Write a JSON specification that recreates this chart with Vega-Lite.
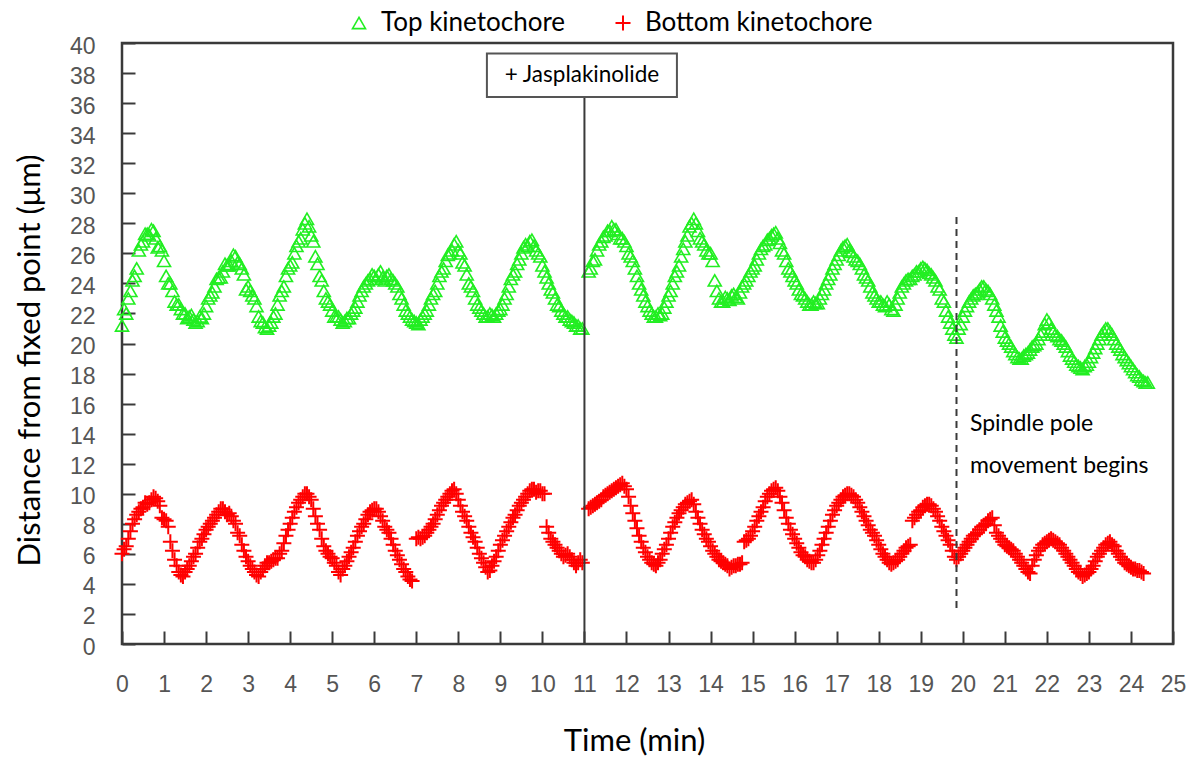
{
"$schema": "https://vega.github.io/schema/vega-lite/v6.json",
"width": 1051, "height": 601,
"autosize": {"type": "none"},
"padding": {"left": 122, "top": 43, "right": 19, "bottom": 113},
"background": "white",
"config": {"view": {"stroke": "#3a3a3a", "strokeWidth": 2.5}, "font": "Lato"},
"datasets": {
"kin": [
{"t":0.0,"a":21.2,"b":6.0},{"t":0.1,"a":22.0,"b":6.5},{"t":0.2,"a":23.5,"b":7.5},{"t":0.3,"a":24.5,"b":8.3},{"t":0.4,"a":26.2,"b":8.8},{"t":0.5,"a":26.8,"b":9.1},{"t":0.6,"a":27.3,"b":9.3},{"t":0.7,"a":27.6,"b":9.6},{"t":0.8,"a":27.0,"b":9.7},{"t":0.9,"a":26.5,"b":9.2},
{"t":1.0,"a":25.5,"b":8.3},{"t":1.1,"a":24.0,"b":7.8},{"t":1.2,"a":23.5,"b":6.2},{"t":1.3,"a":22.6,"b":5.2},{"t":1.4,"a":22.3,"b":4.6},{"t":1.5,"a":22.0,"b":4.8},{"t":1.6,"a":21.8,"b":5.2},{"t":1.7,"a":21.6,"b":5.8},{"t":1.8,"a":21.5,"b":6.4},{"t":1.9,"a":21.7,"b":7.0},
{"t":2.0,"a":22.5,"b":7.6},{"t":2.1,"a":23.2,"b":8.0},{"t":2.2,"a":23.8,"b":8.4},{"t":2.3,"a":24.4,"b":8.8},{"t":2.4,"a":24.8,"b":9.0},{"t":2.5,"a":25.2,"b":8.6},{"t":2.6,"a":25.5,"b":8.5},{"t":2.7,"a":25.8,"b":8.0},{"t":2.8,"a":25.3,"b":7.2},{"t":2.9,"a":24.6,"b":6.2},
{"t":3.0,"a":23.8,"b":5.5},{"t":3.1,"a":23.2,"b":5.0},{"t":3.2,"a":22.5,"b":4.6},{"t":3.3,"a":21.5,"b":4.8},{"t":3.4,"a":21.1,"b":5.2},{"t":3.5,"a":21.2,"b":5.4},{"t":3.6,"a":21.8,"b":5.6},{"t":3.7,"a":22.6,"b":5.7},{"t":3.8,"a":23.5,"b":6.2},{"t":3.9,"a":24.5,"b":7.2},
{"t":4.0,"a":25.2,"b":8.0},{"t":4.1,"a":26.0,"b":8.8},{"t":4.2,"a":26.8,"b":9.4},{"t":4.3,"a":27.6,"b":9.8},{"t":4.4,"a":28.3,"b":10.0},{"t":4.5,"a":27.2,"b":9.6},{"t":4.6,"a":25.8,"b":8.5},{"t":4.7,"a":24.5,"b":7.6},{"t":4.8,"a":23.5,"b":6.5},{"t":4.9,"a":22.8,"b":6.0},
{"t":5.0,"a":22.2,"b":5.7},{"t":5.1,"a":21.8,"b":5.2},{"t":5.2,"a":21.6,"b":4.6},{"t":5.3,"a":21.5,"b":5.2},{"t":5.4,"a":21.7,"b":5.8},{"t":5.5,"a":22.2,"b":6.4},{"t":5.6,"a":22.8,"b":7.2},{"t":5.7,"a":23.5,"b":7.8},{"t":5.8,"a":24.0,"b":8.3},{"t":5.9,"a":24.3,"b":8.8},
{"t":6.0,"a":24.5,"b":9.0},{"t":6.1,"a":24.6,"b":8.8},{"t":6.2,"a":24.4,"b":8.2},{"t":6.3,"a":24.5,"b":7.6},{"t":6.4,"a":24.3,"b":7.0},{"t":6.5,"a":24.0,"b":6.2},{"t":6.6,"a":23.3,"b":5.6},{"t":6.7,"a":22.6,"b":5.0},{"t":6.8,"a":22.0,"b":4.5},{"t":6.9,"a":21.6,"b":4.2},
{"t":7.0,"a":21.4,"b":7.0},{"t":7.1,"a":21.6,"b":7.0},{"t":7.2,"a":22.0,"b":7.2},{"t":7.3,"a":22.6,"b":7.6},{"t":7.4,"a":23.3,"b":8.0},{"t":7.5,"a":24.0,"b":8.6},{"t":7.6,"a":24.8,"b":9.2},{"t":7.7,"a":25.5,"b":9.6},{"t":7.8,"a":26.0,"b":10.0},{"t":7.9,"a":26.6,"b":10.3},
{"t":8.0,"a":26.2,"b":9.6},{"t":8.1,"a":25.4,"b":8.8},{"t":8.2,"a":24.6,"b":8.2},{"t":8.3,"a":23.8,"b":7.4},{"t":8.4,"a":23.0,"b":6.8},{"t":8.5,"a":22.4,"b":6.0},{"t":8.6,"a":22.0,"b":5.4},{"t":8.7,"a":21.8,"b":4.8},{"t":8.8,"a":21.9,"b":5.2},{"t":8.9,"a":22.0,"b":5.8},
{"t":9.0,"a":22.3,"b":6.6},{"t":9.1,"a":23.0,"b":7.2},{"t":9.2,"a":23.8,"b":7.8},{"t":9.3,"a":24.6,"b":8.4},{"t":9.4,"a":25.3,"b":8.9},{"t":9.5,"a":26.0,"b":9.4},{"t":9.6,"a":26.6,"b":9.8},{"t":9.7,"a":26.8,"b":10.2},{"t":9.8,"a":26.5,"b":10.3},{"t":9.9,"a":26.0,"b":10.2},
{"t":10.0,"a":25.2,"b":10.0},{"t":10.1,"a":24.4,"b":7.8},{"t":10.2,"a":23.6,"b":7.0},{"t":10.3,"a":23.0,"b":6.6},{"t":10.4,"a":22.5,"b":6.2},{"t":10.5,"a":22.0,"b":5.8},{"t":10.6,"a":21.8,"b":6.0},{"t":10.7,"a":21.5,"b":5.6},{"t":10.8,"a":21.2,"b":5.2},{"t":10.9,"a":21.0,"b":5.6},
{"t":11.1,"a":24.8,"b":9.0},{"t":11.2,"a":25.5,"b":9.2},{"t":11.3,"a":26.2,"b":9.4},{"t":11.4,"a":26.8,"b":9.6},{"t":11.5,"a":27.2,"b":9.9},{"t":11.6,"a":27.5,"b":10.1},{"t":11.7,"a":27.6,"b":10.3},{"t":11.8,"a":27.3,"b":10.5},{"t":11.9,"a":27.0,"b":10.7},
{"t":12.0,"a":26.5,"b":10.3},{"t":12.1,"a":25.8,"b":9.2},{"t":12.2,"a":25.0,"b":8.2},{"t":12.3,"a":24.0,"b":7.2},{"t":12.4,"a":23.2,"b":6.4},{"t":12.5,"a":22.5,"b":5.8},{"t":12.6,"a":22.0,"b":5.4},{"t":12.7,"a":21.8,"b":5.2},{"t":12.8,"a":21.9,"b":5.6},{"t":12.9,"a":22.4,"b":6.3},
{"t":13.0,"a":23.2,"b":7.0},{"t":13.1,"a":24.0,"b":7.8},{"t":13.2,"a":24.8,"b":8.4},{"t":13.3,"a":25.8,"b":8.9},{"t":13.4,"a":26.8,"b":9.3},{"t":13.5,"a":27.8,"b":9.5},{"t":13.6,"a":28.3,"b":9.3},{"t":13.7,"a":27.5,"b":8.4},{"t":13.8,"a":26.8,"b":7.6},{"t":13.9,"a":26.2,"b":7.0},
{"t":14.0,"a":26.0,"b":6.5},{"t":14.1,"a":24.2,"b":6.0},{"t":14.2,"a":23.0,"b":5.6},{"t":14.3,"a":22.8,"b":5.4},{"t":14.4,"a":23.0,"b":5.2},{"t":14.5,"a":23.2,"b":5.1},{"t":14.6,"a":23.1,"b":5.2},{"t":14.7,"a":23.4,"b":5.3},{"t":14.8,"a":24.0,"b":6.8},{"t":14.9,"a":24.5,"b":7.0},
{"t":15.0,"a":25.0,"b":7.5},{"t":15.1,"a":25.6,"b":8.2},{"t":15.2,"a":26.3,"b":8.8},{"t":15.3,"a":26.6,"b":9.5},{"t":15.4,"a":27.0,"b":10.0},{"t":15.5,"a":27.3,"b":10.3},{"t":15.6,"a":27.0,"b":10.2},{"t":15.7,"a":26.2,"b":9.4},{"t":15.8,"a":25.5,"b":8.4},{"t":15.9,"a":24.8,"b":7.6},
{"t":16.0,"a":24.2,"b":7.0},{"t":16.1,"a":23.6,"b":6.4},{"t":16.2,"a":23.2,"b":5.9},{"t":16.3,"a":22.8,"b":5.6},{"t":16.4,"a":22.6,"b":5.4},{"t":16.5,"a":22.7,"b":5.6},{"t":16.6,"a":23.0,"b":6.2},{"t":16.7,"a":23.6,"b":7.0},{"t":16.8,"a":24.3,"b":7.8},{"t":16.9,"a":25.0,"b":8.6},
{"t":17.0,"a":25.6,"b":9.2},{"t":17.1,"a":26.2,"b":9.6},{"t":17.2,"a":26.5,"b":9.9},{"t":17.3,"a":26.2,"b":10.0},{"t":17.4,"a":25.8,"b":9.8},{"t":17.5,"a":25.5,"b":9.4},{"t":17.6,"a":25.0,"b":8.8},{"t":17.7,"a":24.4,"b":8.2},{"t":17.8,"a":23.8,"b":7.6},{"t":17.9,"a":23.2,"b":7.2},
{"t":18.0,"a":22.8,"b":6.6},{"t":18.1,"a":22.6,"b":6.0},{"t":18.2,"a":22.8,"b":5.6},{"t":18.3,"a":22.3,"b":5.3},{"t":18.4,"a":22.6,"b":5.5},{"t":18.5,"a":23.4,"b":5.8},{"t":18.6,"a":24.0,"b":6.2},{"t":18.7,"a":24.3,"b":6.5},{"t":18.8,"a":24.5,"b":8.2},{"t":18.9,"a":24.8,"b":8.6},
{"t":19.0,"a":25.0,"b":8.9},{"t":19.1,"a":25.0,"b":9.2},{"t":19.2,"a":24.7,"b":9.3},{"t":19.3,"a":24.4,"b":9.0},{"t":19.4,"a":23.8,"b":8.5},{"t":19.5,"a":23.0,"b":7.8},{"t":19.6,"a":22.2,"b":7.2},{"t":19.7,"a":21.4,"b":6.6},{"t":19.8,"a":20.6,"b":5.8},{"t":19.9,"a":21.0,"b":5.8},
{"t":20.0,"a":21.8,"b":6.2},{"t":20.1,"a":22.5,"b":6.6},{"t":20.2,"a":23.0,"b":7.0},{"t":20.3,"a":23.3,"b":7.3},{"t":20.4,"a":23.6,"b":7.6},{"t":20.5,"a":23.8,"b":7.9},{"t":20.6,"a":23.5,"b":8.2},{"t":20.7,"a":23.0,"b":8.4},{"t":20.8,"a":22.2,"b":7.4},{"t":20.9,"a":21.2,"b":7.0},
{"t":21.0,"a":20.4,"b":6.6},{"t":21.1,"a":20.0,"b":6.4},{"t":21.2,"a":19.5,"b":6.2},{"t":21.3,"a":19.1,"b":5.8},{"t":21.4,"a":19.0,"b":5.4},{"t":21.5,"a":19.3,"b":5.0},{"t":21.6,"a":19.6,"b":4.7},{"t":21.7,"a":19.9,"b":5.6},{"t":21.8,"a":20.3,"b":6.2},{"t":21.9,"a":20.8,"b":6.6},
{"t":22.0,"a":21.6,"b":6.8},{"t":22.1,"a":21.0,"b":7.0},{"t":22.2,"a":20.6,"b":6.8},{"t":22.3,"a":20.3,"b":6.6},{"t":22.4,"a":20.0,"b":6.2},{"t":22.5,"a":19.5,"b":5.8},{"t":22.6,"a":19.0,"b":5.4},{"t":22.7,"a":18.6,"b":5.0},{"t":22.8,"a":18.4,"b":4.7},{"t":22.9,"a":18.5,"b":4.6},
{"t":23.0,"a":18.8,"b":4.8},{"t":23.1,"a":19.4,"b":5.2},{"t":23.2,"a":20.0,"b":5.8},{"t":23.3,"a":20.6,"b":6.2},{"t":23.4,"a":21.0,"b":6.6},{"t":23.5,"a":20.8,"b":6.8},{"t":23.6,"a":20.3,"b":6.5},{"t":23.7,"a":19.8,"b":6.0},{"t":23.8,"a":19.3,"b":5.6},{"t":23.9,"a":18.9,"b":5.3},
{"t":24.0,"a":18.5,"b":5.1},{"t":24.1,"a":18.1,"b":5.0},{"t":24.2,"a":17.8,"b":4.9},{"t":24.3,"a":17.5,"b":4.7},{"t":24.4,"a":17.4,"b":null},
{"t":0.05,"a":22.3,"b":6.3},{"t":0.15,"a":23.0,"b":7.0},{"t":0.25,"a":24.2,"b":8.0},{"t":0.35,"a":25.0,"b":8.6},{"t":0.45,"a":26.6,"b":9.0},{"t":0.55,"a":27.3,"b":9.4},{"t":0.65,"a":27.2,"b":9.4},{"t":0.75,"a":27.5,"b":9.8},{"t":0.85,"a":26.4,"b":9.5},{"t":0.95,"a":26.2,"b":8.4},
{"t":1.05,"a":24.5,"b":8.2},{"t":1.15,"a":24.0,"b":6.8},{"t":1.25,"a":22.8,"b":5.6},{"t":1.35,"a":22.6,"b":4.8},{"t":1.45,"a":22.0,"b":4.5},{"t":1.55,"a":21.7,"b":5.0},{"t":1.65,"a":21.9,"b":5.5},{"t":1.75,"a":21.4,"b":6.0},{"t":1.85,"a":21.8,"b":6.8},{"t":1.95,"a":22.0,"b":7.3},
{"t":2.05,"a":23.0,"b":7.8},{"t":2.15,"a":23.4,"b":8.2},{"t":2.25,"a":24.3,"b":8.6},{"t":2.35,"a":24.4,"b":9.0},{"t":2.45,"a":25.3,"b":8.8},{"t":2.55,"a":25.2,"b":8.7},{"t":2.65,"a":25.9,"b":8.2},{"t":2.75,"a":25.4,"b":7.4},{"t":2.85,"a":25.0,"b":6.6},{"t":2.95,"a":23.6,"b":5.8},
{"t":3.05,"a":23.5,"b":5.2},{"t":3.15,"a":23.0,"b":4.8},{"t":3.25,"a":21.8,"b":4.5},{"t":3.35,"a":21.4,"b":5.0},{"t":3.45,"a":21.0,"b":5.4},{"t":3.55,"a":21.4,"b":5.5},{"t":3.65,"a":22.0,"b":5.7},{"t":3.75,"a":23.2,"b":6.0},{"t":3.85,"a":23.8,"b":6.7},{"t":3.95,"a":25.0,"b":7.6},
{"t":4.05,"a":25.4,"b":8.4},{"t":4.15,"a":26.5,"b":9.1},{"t":4.25,"a":27.0,"b":9.6},{"t":4.35,"a":28.0,"b":10.0},{"t":4.45,"a":27.8,"b":9.8},{"t":4.55,"a":26.8,"b":9.0},{"t":4.65,"a":25.3,"b":8.0},{"t":4.75,"a":24.2,"b":7.0},{"t":4.85,"a":23.0,"b":6.2},{"t":4.95,"a":22.6,"b":5.8},
{"t":5.05,"a":21.8,"b":5.4},{"t":5.15,"a":21.8,"b":4.8},{"t":5.25,"a":21.4,"b":5.0},{"t":5.35,"a":21.7,"b":5.5},{"t":5.45,"a":22.0,"b":6.1},{"t":5.55,"a":22.4,"b":6.8},{"t":5.65,"a":23.2,"b":7.5},{"t":5.75,"a":23.8,"b":8.0},{"t":5.85,"a":24.2,"b":8.6},{"t":5.95,"a":24.6,"b":8.9},
{"t":6.05,"a":24.3,"b":9.0},{"t":6.15,"a":24.8,"b":8.5},{"t":6.25,"a":24.2,"b":7.8},{"t":6.35,"a":24.6,"b":7.4},{"t":6.45,"a":24.2,"b":6.6},{"t":6.55,"a":23.8,"b":5.9},{"t":6.65,"a":23.0,"b":5.3},{"t":6.75,"a":22.2,"b":4.8},{"t":6.85,"a":21.8,"b":4.3},{"t":6.95,"a":21.5,"b":null},
{"t":7.05,"a":21.3,"b":7.1},{"t":7.15,"a":21.8,"b":7.1},{"t":7.25,"a":22.2,"b":7.4},{"t":7.35,"a":23.0,"b":7.8},{"t":7.45,"a":23.5,"b":8.3},{"t":7.55,"a":24.5,"b":8.9},{"t":7.65,"a":25.0,"b":9.4},{"t":7.75,"a":25.9,"b":9.8},{"t":7.85,"a":26.2,"b":10.2},{"t":7.95,"a":26.8,"b":10.0},
{"t":8.05,"a":26.0,"b":9.2},{"t":8.15,"a":25.2,"b":8.5},{"t":8.25,"a":24.0,"b":7.8},{"t":8.35,"a":23.5,"b":7.1},{"t":8.45,"a":22.6,"b":6.4},{"t":8.55,"a":22.2,"b":5.7},{"t":8.65,"a":21.8,"b":5.1},{"t":8.75,"a":22.0,"b":4.9},{"t":8.85,"a":21.8,"b":5.5},{"t":8.95,"a":22.2,"b":6.2},
{"t":9.05,"a":22.6,"b":6.9},{"t":9.15,"a":23.3,"b":7.5},{"t":9.25,"a":24.3,"b":8.1},{"t":9.35,"a":24.8,"b":8.6},{"t":9.45,"a":25.6,"b":9.2},{"t":9.55,"a":26.4,"b":9.6},{"t":9.65,"a":26.5,"b":10.0},{"t":9.75,"a":26.9,"b":10.3},{"t":9.85,"a":26.2,"b":10.1},{"t":9.95,"a":25.8,"b":10.2},
{"t":10.05,"a":24.8,"b":10.0},{"t":10.15,"a":24.0,"b":7.4},{"t":10.25,"a":23.4,"b":6.8},{"t":10.35,"a":22.6,"b":6.4},{"t":10.45,"a":22.2,"b":6.0},{"t":10.55,"a":21.8,"b":5.9},{"t":10.65,"a":21.6,"b":5.8},{"t":10.75,"a":21.4,"b":5.4},{"t":10.85,"a":21.2,"b":5.4},{"t":10.95,"a":21.0,"b":5.4},
{"t":11.15,"a":25.0,"b":9.1},{"t":11.25,"a":25.6,"b":9.3},{"t":11.35,"a":26.6,"b":9.5},{"t":11.45,"a":27.1,"b":9.8},{"t":11.55,"a":27.5,"b":10.0},{"t":11.65,"a":27.8,"b":10.2},{"t":11.75,"a":27.6,"b":10.4},{"t":11.85,"a":27.0,"b":10.6},{"t":11.95,"a":26.8,"b":10.5},
{"t":12.05,"a":26.0,"b":9.8},{"t":12.15,"a":25.5,"b":8.7},{"t":12.25,"a":24.5,"b":7.7},{"t":12.35,"a":23.6,"b":6.8},{"t":12.45,"a":22.8,"b":6.1},{"t":12.55,"a":22.2,"b":5.6},{"t":12.65,"a":21.8,"b":5.3},{"t":12.75,"a":22.0,"b":5.4},{"t":12.85,"a":22.0,"b":6.0},{"t":12.95,"a":22.8,"b":6.6},
{"t":13.05,"a":23.5,"b":7.4},{"t":13.15,"a":24.5,"b":8.1},{"t":13.25,"a":25.2,"b":8.7},{"t":13.35,"a":26.3,"b":9.1},{"t":13.45,"a":27.2,"b":9.4},{"t":13.55,"a":28.0,"b":9.6},{"t":13.65,"a":28.0,"b":8.8},{"t":13.75,"a":27.0,"b":8.0},{"t":13.85,"a":26.6,"b":7.3},{"t":13.95,"a":26.0,"b":6.8},
{"t":14.05,"a":25.5,"b":6.2},{"t":14.15,"a":23.5,"b":5.8},{"t":14.25,"a":22.8,"b":5.5},{"t":14.35,"a":23.1,"b":5.3},{"t":14.45,"a":22.9,"b":5.0},{"t":14.55,"a":23.3,"b":5.2},{"t":14.65,"a":23.0,"b":5.3},{"t":14.75,"a":23.8,"b":5.4},{"t":14.85,"a":24.2,"b":6.9},{"t":14.95,"a":24.8,"b":7.2},
{"t":15.05,"a":25.2,"b":7.8},{"t":15.15,"a":26.0,"b":8.5},{"t":15.25,"a":26.5,"b":9.1},{"t":15.35,"a":26.9,"b":9.8},{"t":15.45,"a":27.2,"b":10.2},{"t":15.55,"a":27.4,"b":10.4},{"t":15.65,"a":26.7,"b":9.8},{"t":15.75,"a":26.0,"b":8.9},{"t":15.85,"a":25.0,"b":8.0},{"t":15.95,"a":24.5,"b":7.3},
{"t":16.05,"a":24.0,"b":6.7},{"t":16.15,"a":23.3,"b":6.1},{"t":16.25,"a":23.0,"b":5.8},{"t":16.35,"a":22.6,"b":5.5},{"t":16.45,"a":22.8,"b":5.4},{"t":16.55,"a":22.7,"b":5.9},{"t":16.65,"a":23.3,"b":6.6},{"t":16.75,"a":24.0,"b":7.4},{"t":16.85,"a":24.6,"b":8.2},{"t":16.95,"a":25.3,"b":8.9},
{"t":17.05,"a":25.9,"b":9.4},{"t":17.15,"a":26.4,"b":9.8},{"t":17.25,"a":26.6,"b":10.0},{"t":17.35,"a":26.1,"b":9.9},{"t":17.45,"a":25.6,"b":9.6},{"t":17.55,"a":25.3,"b":9.1},{"t":17.65,"a":24.6,"b":8.5},{"t":17.75,"a":24.2,"b":7.9},{"t":17.85,"a":23.4,"b":7.4},{"t":17.95,"a":23.0,"b":6.9},
{"t":18.05,"a":22.8,"b":6.3},{"t":18.15,"a":22.5,"b":5.8},{"t":18.25,"a":22.6,"b":5.4},{"t":18.35,"a":22.2,"b":5.4},{"t":18.45,"a":23.0,"b":5.6},{"t":18.55,"a":23.8,"b":6.0},{"t":18.65,"a":24.2,"b":6.4},{"t":18.75,"a":24.3,"b":6.6},{"t":18.85,"a":24.6,"b":8.4},{"t":18.95,"a":24.8,"b":8.8},
{"t":19.05,"a":25.1,"b":9.1},{"t":19.15,"a":24.9,"b":9.3},{"t":19.25,"a":24.6,"b":9.2},{"t":19.35,"a":24.2,"b":8.8},{"t":19.45,"a":23.6,"b":8.2},{"t":19.55,"a":22.8,"b":7.5},{"t":19.65,"a":21.8,"b":6.9},{"t":19.75,"a":21.0,"b":6.2},{"t":19.85,"a":20.4,"b":5.6},{"t":19.95,"a":21.3,"b":6.0},
{"t":20.05,"a":22.2,"b":6.4},{"t":20.15,"a":22.8,"b":6.8},{"t":20.25,"a":23.2,"b":7.2},{"t":20.35,"a":23.4,"b":7.4},{"t":20.45,"a":23.8,"b":7.8},{"t":20.55,"a":23.6,"b":8.0},{"t":20.65,"a":23.3,"b":8.3},{"t":20.75,"a":22.6,"b":7.9},{"t":20.85,"a":21.8,"b":7.2},{"t":20.95,"a":20.8,"b":6.8},
{"t":21.05,"a":20.2,"b":6.5},{"t":21.15,"a":19.8,"b":6.3},{"t":21.25,"a":19.3,"b":6.0},{"t":21.35,"a":19.0,"b":5.6},{"t":21.45,"a":19.2,"b":5.2},{"t":21.55,"a":19.4,"b":4.8},{"t":21.65,"a":19.8,"b":5.2},{"t":21.75,"a":20.0,"b":5.9},{"t":21.85,"a":20.6,"b":6.4},{"t":21.95,"a":21.3,"b":6.7},
{"t":22.05,"a":21.4,"b":6.9},{"t":22.15,"a":20.8,"b":6.9},{"t":22.25,"a":20.5,"b":6.7},{"t":22.35,"a":20.2,"b":6.4},{"t":22.45,"a":19.8,"b":6.0},{"t":22.55,"a":19.2,"b":5.6},{"t":22.65,"a":18.8,"b":5.2},{"t":22.75,"a":18.5,"b":4.8},{"t":22.85,"a":18.3,"b":4.5},{"t":22.95,"a":18.6,"b":4.7},
{"t":23.05,"a":19.1,"b":5.0},{"t":23.15,"a":19.7,"b":5.5},{"t":23.25,"a":20.3,"b":6.0},{"t":23.35,"a":20.8,"b":6.4},{"t":23.45,"a":21.0,"b":6.7},{"t":23.55,"a":20.6,"b":6.6},{"t":23.65,"a":20.0,"b":6.2},{"t":23.75,"a":19.6,"b":5.8},{"t":23.85,"a":19.1,"b":5.4},{"t":23.95,"a":18.7,"b":5.2},
{"t":24.05,"a":18.3,"b":5.0},{"t":24.15,"a":17.9,"b":4.9},{"t":24.25,"a":17.6,"b":4.8},{"t":24.35,"a":17.4,"b":null}
],
"rules": [{"t":11,"v":0,"v2":36.4}],
"dashed": [{"t":19.85,"v":2.4,"v2":28.7}],
"box": [{"t":8.68,"t2":13.2,"v":36.4,"v2":39.3}],
"boxlabel": [{"t":10.94,"v":37.85,"label":"+ Jasplakinolide"}],
"notes": [{"t":20.17,"v":14.64,"label":"Spindle pole"},{"t":20.17,"v":11.84,"label":"movement begins"}]
},
"layer": [
{
"data": {"name": "kin"},
"transform": [{"fold": ["a", "b"], "as": ["k", "v"]}, {"filter": "isValid(datum.v)"}],
"mark": {"type": "point", "filled": false, "opacity": 1},
"encoding": {
"x": {"field": "t", "type": "quantitative",
 "scale": {"domain": [0, 25], "nice": false, "zero": false},
 "axis": {"title": "Time (min)", "values": [0,1,2,3,4,5,6,7,8,9,10,11,12,13,14,15,16,17,18,19,20,21,22,23,24,25], "tickCount": 60, "format": "d",
  "grid": false, "domain": false, "tickSize": -13, "tickWidth": 2, "tickColor": "#3a3a3a",
  "labelFont": "Liberation Sans", "labelFontSize": 23, "labelColor": "#555", "labelPadding": 42,
  "labelFlush": false, "labelOverlap": false, "labelBaseline": "top",
  "titleFont": "Lato", "titleFontSize": 31, "titleFontWeight": "normal", "titleColor": "#000",
  "titleX": 512, "titleY": 97, "titleBaseline": "middle", "titleAlign": "center"}},
"y": {"field": "v", "type": "quantitative",
 "scale": {"domain": [0, 40], "nice": false},
 "axis": {"title": "Distance from fixed point  (μm)", "values": [0,2,4,6,8,10,12,14,16,18,20,22,24,26,28,30,32,34,36,38,40], "tickCount": 60, "format": "d",
  "grid": false, "domain": false, "tickSize": -13, "tickWidth": 2, "tickColor": "#3a3a3a",
  "labelFont": "Liberation Sans", "labelFontSize": 23, "labelColor": "#555", "labelPadding": 40,
  "labelFlush": false, "labelOverlap": false, "labelOffset": 3,
  "titleFont": "Lato", "titleFontSize": 31, "titleFontWeight": "normal", "titleColor": "#000",
  "titleX": -92, "titleY": 317, "titleBaseline": "middle", "titleAlign": "center", "titleAngle": -90}},
"color": {"field": "k", "type": "nominal",
 "scale": {"domain": ["a", "b"], "range": ["#22ee22", "#ff0000"]},
 "legend": {"orient": "none", "legendX": 224, "legendY": -33, "direction": "horizontal", "title": null,
  "labelExpr": "datum.label == 'a' ? 'Top kinetochore' : 'Bottom kinetochore'",
  "labelFont": "Lato", "labelFontSize": 26, "labelColor": "#000", "labelLimit": 400,
  "symbolSize": 180, "symbolStrokeWidth": 2, "labelOffset": 9, "columnPadding": 44}},
"shape": {"field": "k", "type": "nominal",
 "scale": {"domain": ["a", "b"], "range": ["triangle-up", "M-1,0L1,0M0,-1L0,1"]},
 "legend": null},
"size": {"field": "k", "type": "nominal",
 "scale": {"domain": ["a", "b"], "range": [170, 225]}, "legend": null},
"strokeWidth": {"field": "k", "type": "nominal",
 "scale": {"domain": ["a", "b"], "range": [1.6, 2]}, "legend": null}
}
},
{
"data": {"name": "rules"},
"mark": {"type": "rule", "color": "#3a3a3a", "strokeWidth": 2},
"encoding": {"x": {"field": "t", "type": "quantitative"}, "y": {"field": "v", "type": "quantitative"}, "y2": {"field": "v2"}}
},
{
"data": {"name": "dashed"},
"mark": {"type": "rule", "color": "#3a3a3a", "strokeWidth": 2, "strokeDash": [7, 5]},
"encoding": {"x": {"field": "t", "type": "quantitative"}, "y": {"field": "v", "type": "quantitative"}, "y2": {"field": "v2"}}
},
{
"data": {"name": "box"},
"mark": {"type": "rect", "fill": "white", "stroke": "#555", "strokeWidth": 2},
"encoding": {"x": {"field": "t", "type": "quantitative"}, "x2": {"field": "t2"}, "y": {"field": "v", "type": "quantitative"}, "y2": {"field": "v2"}}
},
{
"data": {"name": "boxlabel"},
"mark": {"type": "text", "font": "Lato", "fontSize": 22.5, "color": "#000", "align": "center", "baseline": "middle"},
"encoding": {"x": {"field": "t", "type": "quantitative"}, "y": {"field": "v", "type": "quantitative"}, "text": {"field": "label"}}
},
{
"data": {"name": "notes"},
"mark": {"type": "text", "font": "Lato", "fontSize": 23, "color": "#000", "align": "left", "baseline": "middle"},
"encoding": {"x": {"field": "t", "type": "quantitative"}, "y": {"field": "v", "type": "quantitative"}, "text": {"field": "label"}}
}
]
}
